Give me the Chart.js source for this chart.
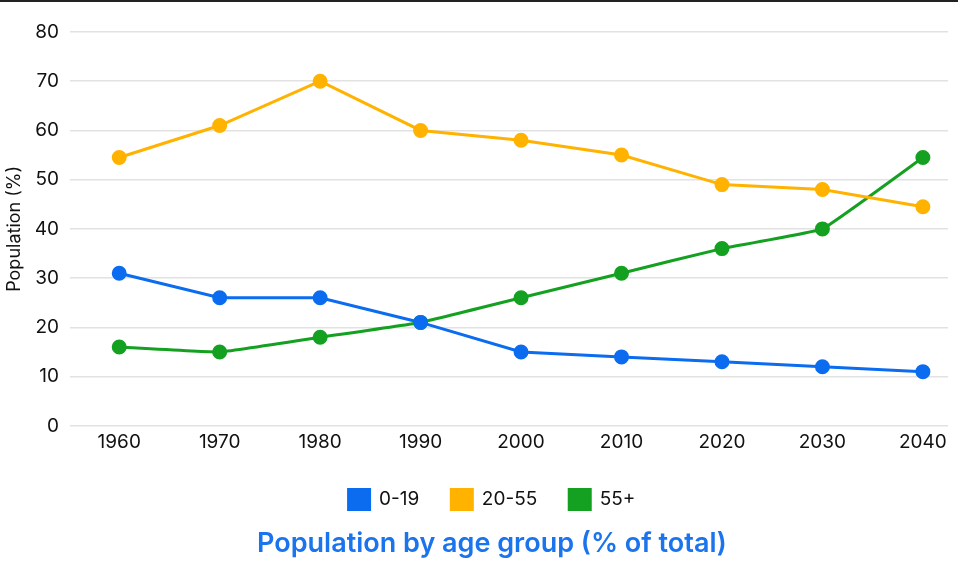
<!DOCTYPE html>
<html>
<head>
<meta charset="utf-8">
<script src="https://cdn.jsdelivr.net/npm/chart.js@4"></script>
<style>
  html, body { margin: 0; padding: 0; background: #fff; }
  .wrap { width: 958px; height: 570px; border-top: 2px solid #222; }
</style>
</head>
<body>
<div class="wrap"><canvas id="chart"></canvas></div>
<script>
const years = [1960, 1970, 1980, 1990, 2000, 2010, 2020, 2030, 2040];
const young = [31, 26, 26, 21, 15, 14, 13, 12, 11];
const adults = [54.5, 61, 70, 60, 58, 55, 49, 48, 44.5];
const seniors = [16, 15, 18, 21, 26, 31, 36, 40, 54.5];
const yTicks = [0, 10, 20, 30, 40, 50, 60, 70, 80];

const FONT = 'Inter, "Noto Sans", sans-serif';
const Y_TITLE = 'Population (%)';

function series(label, values, color, tension = 0) {
  return {
    label,
    data: values.map((v, i) => ({x: years[i], y: v})),
    borderColor: color,
    backgroundColor: color,
    borderWidth: 3,
    pointRadius: 6,
    pointHoverRadius: 6,
    tension,
  };
}

// y title drawn in the left padding, so legend and title stay centred like the original
const yTitlePlugin = {
  id: 'yTitle',
  afterDraw(chart) {
    const {ctx, chartArea} = chart;
    ctx.save();
    ctx.translate(15, (chartArea.top + chartArea.bottom) / 2);
    ctx.rotate(-Math.PI / 2);
    ctx.font = '18px ' + FONT;
    ctx.fillStyle = '#111';
    ctx.textAlign = 'center';
    ctx.textBaseline = 'middle';
    ctx.fillText(Y_TITLE, 0, 0);
    ctx.restore();
  },
};

const chart = new Chart(document.getElementById('chart'), {
  type: 'line',
  data: {
    datasets: [
      series('0-19', young, '#0b6cf0'),
      series('20-55', adults, '#ffb300'),
      series('55+', seniors, '#14a020', 0.08),
    ],
  },
  plugins: [yTitlePlugin],
  options: {
    responsive: true,
    maintainAspectRatio: false,
    animation: false,
    layout: {padding: {top: 30, right: 10, left: 36, bottom: 4}},
    scales: {
      x: {
        type: 'linear',
        min: years[0] - 4.9,
        max: years[years.length - 1] + 2.5,
        afterBuildTicks: (scale) => { scale.ticks = years.map((value) => ({value})); },
        afterFit: (scale) => { scale.height += 7; },
        grid: {display: false},
        border: {display: false},
        ticks: {
          color: '#111',
          font: {family: FONT, size: 19},
          padding: -3,
          callback: (value) => String(value),
        },
      },
      y: {
        min: 0,
        max: 80,
        afterBuildTicks: (scale) => { scale.ticks = yTicks.map((value) => ({value})); },
        afterFit: (scale) => { scale.width = 34; },
        grid: {color: '#e2e2e2', lineWidth: 1.5, drawTicks: false},
        border: {display: false},
        ticks: {color: '#111', font: {family: FONT, size: 19}, padding: 11},
      },
    },
    plugins: {
      legend: {
        position: 'bottom',
        labels: {
          color: '#111',
          font: {family: FONT, size: 19},
          boxWidth: 21,
          boxHeight: 20,
          padding: 32,
        },
      },
      title: {
        display: true,
        position: 'bottom',
        text: 'Population by age group (% of total)',
        color: '#1a74ee',
        font: {family: FONT, size: 27, weight: '600'},
        padding: {top: 8, bottom: 8},
      },
      tooltip: {enabled: false},
    },
  },
});
</script>
</body>
</html>
